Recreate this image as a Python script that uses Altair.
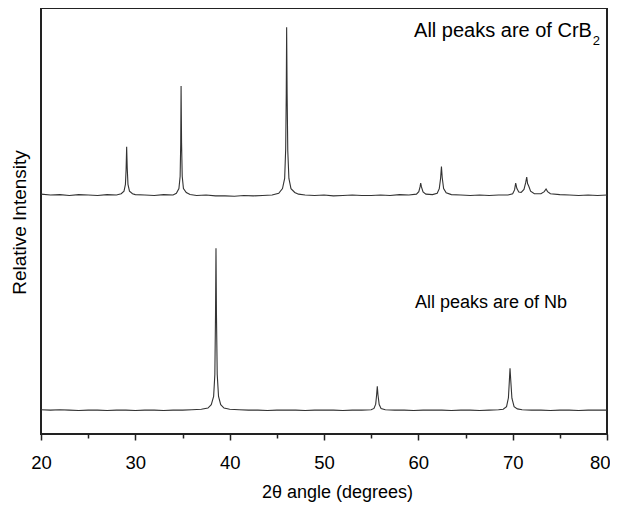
import altair as alt
import pandas as pd

# CrB2 pattern (upper trace)
crb2_x = [20.0, 21.0, 22.0, 23.0, 24.0, 25.0, 26.0, 27.0, 28.0, 28.5, 28.8, 28.95, 29.02, 29.08, 29.14, 29.22, 29.38, 29.7,
          30.0, 31.0, 32.0, 33.0, 34.0, 34.35, 34.62, 34.75, 34.81, 34.85, 34.9, 34.97, 35.1, 35.4, 35.8,
          36.5, 37.5, 38.5, 39.5, 40.5, 41.5, 42.5, 43.5, 44.5, 45.2, 45.6, 45.83, 45.94, 46.0, 46.04, 46.09, 46.16, 46.28, 46.5, 46.9,
          47.3, 48.0, 49.0, 50.0, 51.0, 52.0, 53.0, 54.0, 55.0, 56.0, 57.0, 58.0, 59.0, 59.8, 60.05, 60.18, 60.25, 60.33, 60.5, 60.8,
          61.5, 62.0, 62.22, 62.36, 62.45, 62.53, 62.68, 62.95, 63.5, 64.5, 65.5, 66.5, 67.5, 68.5, 69.5,
          70.0, 70.2, 70.32, 70.45, 70.65, 70.9, 71.2, 71.38, 71.49, 71.58, 71.7, 71.9, 72.3, 73.0, 73.35, 73.54, 73.7, 74.0,
          75.0, 76.0, 77.0, 78.0, 79.0, 80.0]
crb2_y = [56.3, 56.1, 56.2, 56.0, 56.2, 56.1, 56.0, 56.2, 56.1, 56.4, 57.0, 58.6, 62.0, 67.4, 62.5, 58.6, 57.0, 56.4,
          56.2, 56.1, 56.0, 56.2, 56.1, 56.5, 57.6, 60.5, 68.0, 81.7, 68.5, 60.5, 57.6, 56.7, 56.2,
          56.0, 56.1, 55.9, 55.9, 55.8, 56.0, 55.9, 56.0, 56.1, 56.5, 57.6, 60.0, 67.0, 80.0, 95.5, 80.0, 66.5, 60.0, 57.6, 56.7,
          56.3, 56.1, 56.0, 56.1, 55.9, 56.0, 56.1, 56.0, 56.0, 56.1, 56.0, 56.2, 56.1, 56.3, 56.9, 58.0, 58.9, 58.0, 56.8, 56.3,
          56.2, 56.5, 57.6, 60.0, 62.8, 60.2, 57.6, 56.6, 56.2, 56.1, 56.0, 56.1, 56.0, 56.1, 56.1,
          56.4, 57.3, 58.9, 57.6, 56.8, 56.7, 57.4, 59.0, 60.3, 58.8, 58.2, 57.0, 56.4, 56.4, 56.9, 57.5, 56.9, 56.4,
          56.2, 56.1, 56.0, 56.1, 56.0, 56.1]

# Nb pattern (lower trace)
nb_x = [20.0, 21.0, 22.0, 23.0, 24.0, 25.0, 26.0, 27.0, 28.0, 29.0, 30.0, 31.0, 32.0, 33.0, 34.0, 35.0, 36.0, 37.0,
        37.7, 38.05, 38.3, 38.43, 38.5, 38.55, 38.6, 38.68, 38.82, 39.05, 39.4, 40.0,
        41.0, 42.0, 43.0, 44.0, 45.0, 46.0, 47.0, 48.0, 49.0, 50.0, 51.0, 52.0, 53.0, 54.0, 55.0,
        55.3, 55.48, 55.58, 55.65, 55.72, 55.85, 56.05, 56.5, 57.5, 58.5, 59.5, 60.5, 61.5, 62.5, 63.5, 64.5, 65.5, 66.5, 67.5, 68.5,
        69.0, 69.35, 69.55, 69.65, 69.72, 69.8, 69.92, 70.15, 70.5, 71.0, 72.0, 73.0, 74.0, 75.0, 76.0, 77.0, 78.0, 79.0, 80.0]
nb_y = [5.7, 5.6, 5.7, 5.6, 5.5, 5.6, 5.6, 5.5, 5.6, 5.6, 5.5, 5.6, 5.6, 5.5, 5.6, 5.6, 5.7, 5.8,
        6.1, 6.9, 8.8, 14.0, 28.0, 43.6, 28.0, 14.0, 8.8, 6.9, 6.1, 5.8,
        5.7, 5.6, 5.6, 5.5, 5.6, 5.6, 5.6, 5.5, 5.6, 5.6, 5.6, 5.5, 5.6, 5.6, 5.7,
        6.0, 7.0, 9.2, 11.2, 9.2, 6.9, 6.0, 5.7, 5.6, 5.6, 5.5, 5.6, 5.6, 5.6, 5.5, 5.6, 5.6, 5.5, 5.6, 5.7,
        5.8, 6.4, 8.5, 12.5, 15.4, 12.5, 8.4, 6.4, 5.9, 5.7, 5.6, 5.6, 5.5, 5.6, 5.6, 5.5, 5.6, 5.6, 5.6]

# annotation texts
crb_text = ["All peaks are of CrB"]
crb_x = [78.4]
crb_y = [93.2]
nb_text = ["All peaks are of Nb"]
nb_tx = [59.65]
nb_ty = [29.6]
sub_text = ["2"]
sub_x = [78.5]
sub_y = [91.2]

FONT = "Liberation Sans"

rows = []
for i, (x, y) in enumerate(zip(crb2_x, crb2_y)):
    rows.append({"angle": x, "intensity": y, "series": "CrB2", "idx": i})
for i, (x, y) in enumerate(zip(nb_x, nb_y)):
    rows.append({"angle": x, "intensity": y, "series": "Nb", "idx": i})
df = pd.DataFrame(rows)

xscale = alt.Scale(domain=[20, 80], nice=False, zero=False)
yscale = alt.Scale(domain=[0, 100], nice=False, zero=False)

lines = alt.Chart(df).mark_line(color="#333333", strokeWidth=1.1).encode(
    x=alt.X("angle:Q", scale=xscale,
            axis=alt.Axis(values=list(range(20, 81, 5)), domain=False, grid=False,
                          tickColor="#222222", tickWidth=1.5,
                          tickSize={"condition": {"test": "datum.value % 10 === 0", "value": 6}, "value": 4},
                          labelExpr="datum.value % 10 === 0 ? datum.label : ''",
                          labelAlign={"condition": {"test": "datum.value === 80", "value": "right"}, "value": "center"},
                          labelOffset={"condition": {"test": "datum.value === 80", "value": 3}, "value": 0},
                          labelFlush=False, labelOverlap=False, labelBound=False,
                          labelFont=FONT, labelFontSize=18.5, labelColor="#000000", labelPadding=22,
                          labelBaseline="middle",
                          title="2θ angle (degrees)", titleFont=FONT, titleFontSize=18,
                          titleFontWeight="normal", titleColor="#000000",
                          titleX=296, titleY=58, titleBaseline="middle", titleAlign="center")),
    y=alt.Y("intensity:Q", scale=yscale,
            axis=alt.Axis(labels=False, ticks=False, domain=False, grid=False,
                          title="Relative Intensity", titleFont=FONT, titleFontSize=19,
                          titleFontWeight="normal", titleColor="#000000",
                          titleAngle=-90, titleX=-22, titleY=214,
                          titleBaseline="middle", titleAlign="center")),
    detail="series:N",
    order="idx:Q",
)

crb_df = pd.DataFrame({"t": crb_text, "x": crb_x, "y": crb_y})
ann_crb = alt.Chart(crb_df).mark_text(
    font=FONT, fontSize=20, align="right", baseline="alphabetic", color="#000000"
).encode(x=alt.X("x:Q", scale=xscale), y=alt.Y("y:Q", scale=yscale), text="t:N")

nb_df = pd.DataFrame({"t": nb_text, "x": nb_tx, "y": nb_ty})
ann_nb = alt.Chart(nb_df).mark_text(
    font=FONT, fontSize=18, align="left", baseline="alphabetic", color="#000000"
).encode(x=alt.X("x:Q", scale=xscale), y=alt.Y("y:Q", scale=yscale), text="t:N")

sub_df = pd.DataFrame({"t": sub_text, "x": sub_x, "y": sub_y})
sub = alt.Chart(sub_df).mark_text(
    font=FONT, fontSize=13, align="left", baseline="alphabetic", color="#000000"
).encode(x=alt.X("x:Q", scale=xscale), y=alt.Y("y:Q", scale=yscale), text="t:N")

chart = alt.layer(lines, ann_crb, ann_nb, sub).properties(
    width=566, height=426,
    autosize=alt.AutoSizeParams(type="none"),
    padding={"left": 33, "top": 0, "right": 3, "bottom": 68},
).configure(
    background="white",
    view=alt.ViewConfig(stroke="#222222", strokeWidth=2),
)

chart.save("out.html", embed_options={"renderer": "svg", "actions": False})
